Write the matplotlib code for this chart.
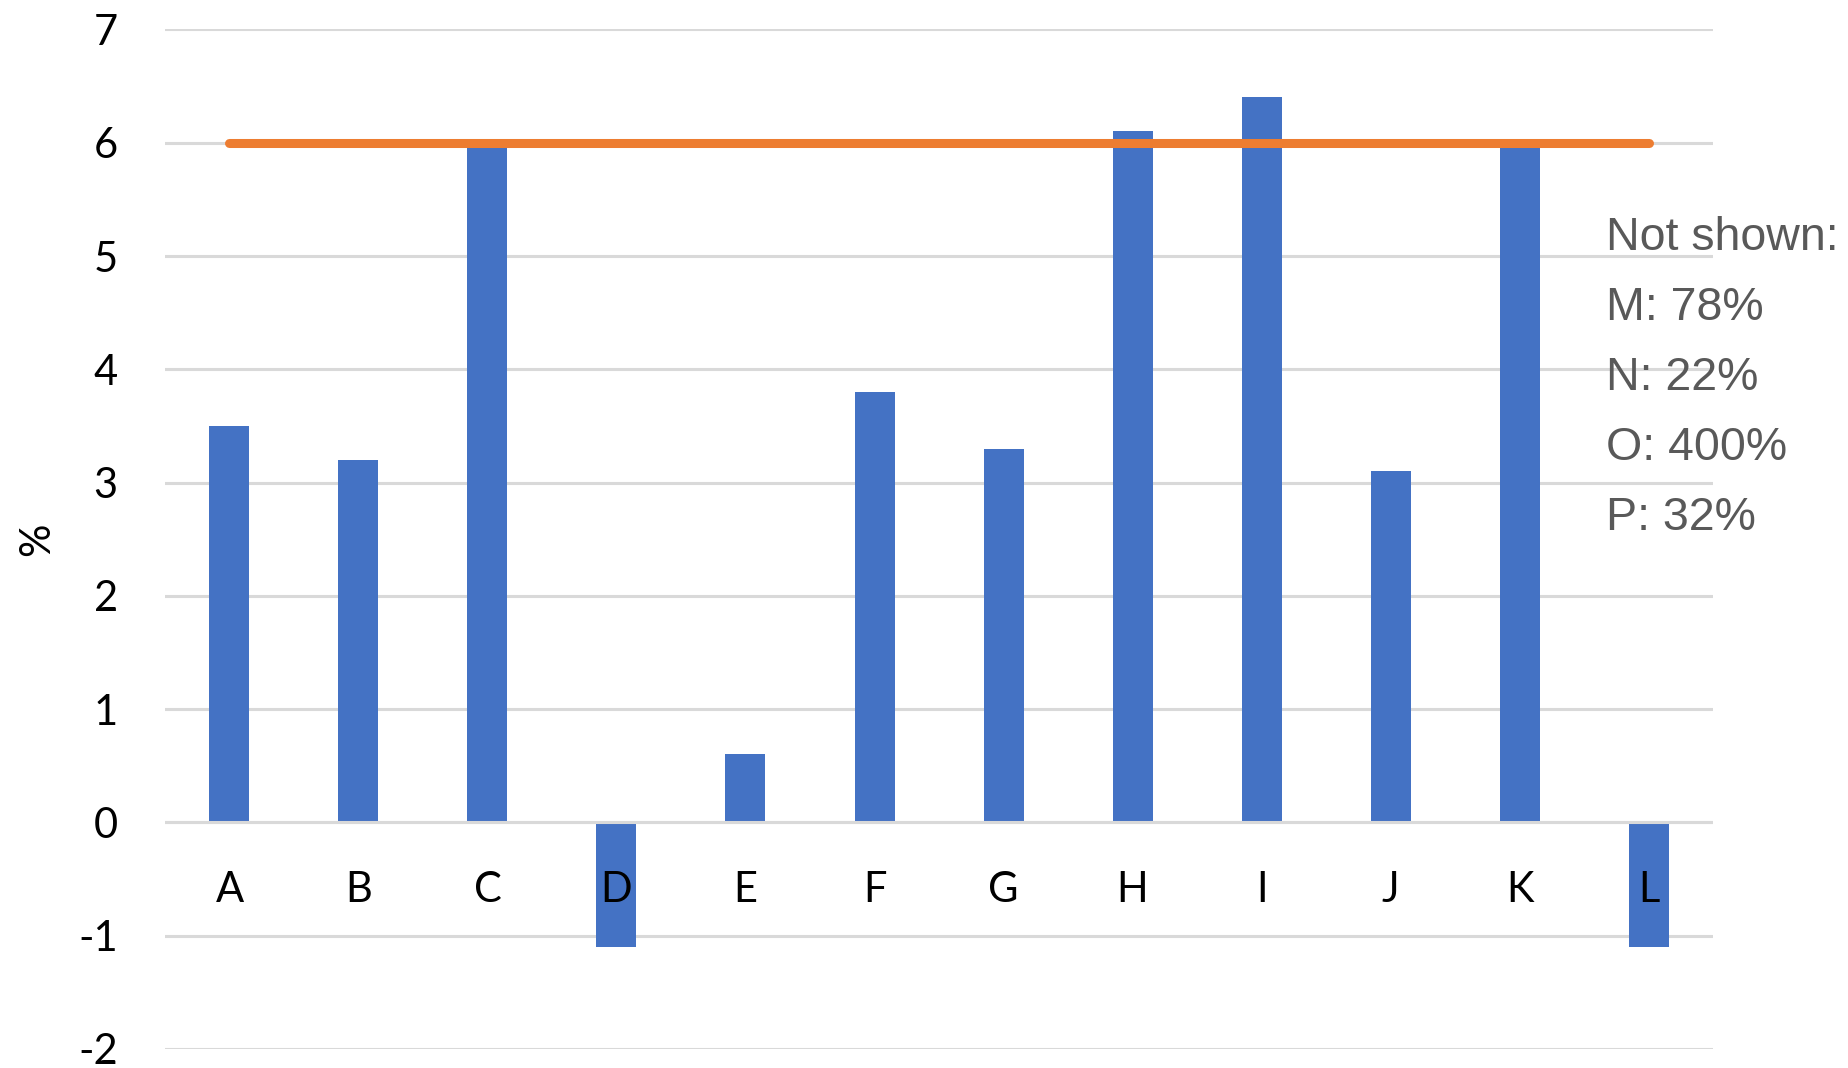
import matplotlib
matplotlib.use("Agg")
import matplotlib.pyplot as plt

# data
categories = ["A", "B", "C", "D", "E", "F", "G", "H", "I", "J", "K", "L"]
values = [3.5, 3.2, 6.0, -1.1, 0.6, 3.8, 3.3, 6.1, 6.4, 3.1, 6.0, -1.1]
target = 6.0
not_shown = ["M: 78%", "N: 22%", "O: 400%", "P: 32%"]
y_ticks = [-2, -1, 0, 1, 2, 3, 4, 5, 6, 7]

plt.rcParams['font.family'] = ['Lato', 'DejaVu Sans']

fig = plt.figure(figsize=(18.49, 10.68), dpi=100)
ax = fig.add_axes([0.0892, 0.0178, 0.9265 - 0.0892, 0.9724 - 0.0178])

x = list(range(len(categories)))
ax.bar(x, values, width=0.31, color='#4472C4', zorder=2)
ax.plot([x[0], x[-1]], [target, target], color='#ED7D31', lw=6.5,
        solid_capstyle='round', zorder=4)

# zero line sits over the bars
ax.axhline(0, color='#d9d9d9', lw=2.2, zorder=3)

ax.set_xlim(-0.5, len(categories) - 0.5)
ax.set_ylim(-2, 7)
ax.set_yticks(y_ticks)
ax.set_yticklabels([str(t) for t in y_ticks])
ax.yaxis.grid(True, color='#d9d9d9', lw=2.2, zorder=0)
ax.set_axisbelow(True)

# category labels just under the zero line, on top of the bars
ax.set_xticks([])
for xi, c in zip(x, categories):
    ax.text(xi, -0.6, c, ha='center', va='center', fontsize=30, zorder=5)

for s in ax.spines.values():
    s.set_visible(False)
ax.tick_params(axis='y', length=0, pad=34, labelsize=30)

ax.set_ylabel('%', fontsize=30, labelpad=16)

# side note
fig.text(1606 / 1849, 1 - 250 / 1068, "Not shown:", family='Liberation Sans',
         fontsize=33.5, color='#595959', va='baseline', ha='left')
for i, t in enumerate(not_shown):
    fig.text(1606 / 1849, 1 - (320 + 70 * i) / 1068, t, family='Liberation Sans',
             fontsize=33.5, color='#595959', va='baseline', ha='left')

fig.savefig('out.png', dpi=100)
